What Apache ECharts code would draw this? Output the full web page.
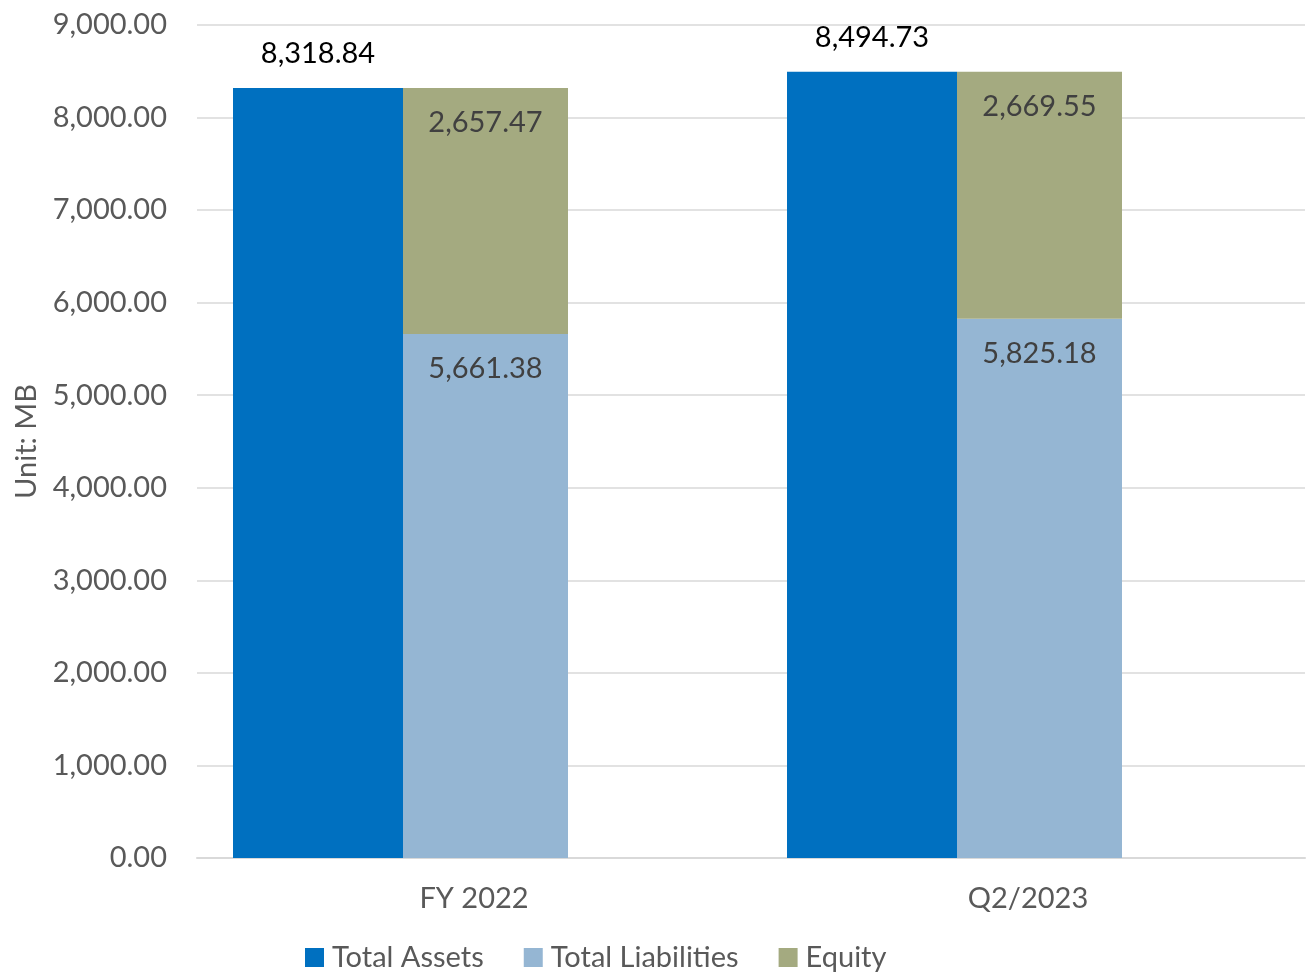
<!DOCTYPE html>
<html>
<head>
<meta charset="utf-8">
<title>Total Assets, Liabilities and Equity</title>
<script src="https://cdn.jsdelivr.net/npm/echarts@6/dist/echarts.min.js"></script>
<style>
  html, body { margin: 0; padding: 0; background: #ffffff; }
  #chart { width: 1306px; height: 975px; }
</style>
</head>
<body>
<div id="chart"></div>
<script>
// Balance sheet figures, unit: million baht
const categories = ['FY 2022', 'Q2/2023'];
const totalAssets = [8318.84, 8494.73];
const totalLiabilities = [5661.38, 5825.18];
const equity = [2657.47, 2669.55];

const yMin = 0;
const yMax = 9000;
const yStep = 1000;

const FONT = 'Lato, "Open Sans", "Noto Sans", sans-serif';
const FS = 29;
const fmt = v => Number(v).toLocaleString('en-US', { minimumFractionDigits: 2, maximumFractionDigits: 2 });

const chart = echarts.init(document.getElementById('chart'), null, { renderer: 'canvas' });

chart.setOption({
  backgroundColor: '#ffffff',
  animation: false,
  textStyle: { fontFamily: FONT },
  grid: { left: 197, right: 1, top: 25, bottom: 117, containLabel: false },
  legend: {
    data: ['Total Assets', 'Total Liabilities', 'Equity'],
    left: 305,
    top: 943,
    padding: 0,
    itemWidth: 19,
    itemHeight: 19,
    itemGap: 40,
    icon: 'rect',
    textStyle: { color: '#595959', fontSize: FS, fontFamily: FONT, padding: [0, 0, 0, 3] }
  },
  xAxis: {
    type: 'category',
    data: categories,
    axisTick: { show: false },
    axisLine: { show: true, lineStyle: { color: '#d9d9d9', width: 2 } },
    axisLabel: { color: '#595959', fontSize: FS, margin: 26, fontFamily: FONT }
  },
  yAxis: {
    type: 'value',
    min: yMin,
    max: yMax,
    interval: yStep,
    name: 'Unit: MB',
    nameLocation: 'middle',
    nameGap: 156,
    nameRotate: 90,
    nameTextStyle: { color: '#595959', fontSize: FS, fontFamily: FONT },
    axisLine: { show: false },
    axisTick: { show: false },
    axisLabel: { color: '#595959', fontSize: FS, margin: 30, fontFamily: FONT, formatter: fmt },
    splitLine: { lineStyle: { color: '#d9d9d9', width: 1.5 } }
  },
  series: [
    {
      name: 'Total Assets',
      type: 'bar',
      data: totalAssets,
      barWidth: 170,
      barGap: '0%',
      itemStyle: { color: '#0070c0' },
      label: {
        show: true, position: 'top', distance: 20,
        color: '#000000', fontSize: FS, fontFamily: FONT,
        formatter: p => fmt(p.value)
      }
    },
    {
      name: 'Total Liabilities',
      type: 'bar',
      stack: 'funding',
      data: totalLiabilities,
      barWidth: 165,
      barGap: '0%',
      itemStyle: { color: '#95b6d3' },
      label: {
        show: true, position: 'insideTop', distance: 20,
        color: '#404040', fontSize: FS, fontFamily: FONT,
        formatter: p => fmt(p.value)
      }
    },
    {
      name: 'Equity',
      type: 'bar',
      stack: 'funding',
      data: equity,
      barWidth: 165,
      barGap: '0%',
      itemStyle: { color: '#a4aa80' },
      label: {
        show: true, position: 'insideTop', distance: 20,
        color: '#404040', fontSize: FS, fontFamily: FONT,
        formatter: p => fmt(p.value)
      }
    },
    {
      // empty slot that keeps the cluster's right-hand space
      name: 'slot',
      type: 'bar',
      data: categories.map(() => '-'),
      barWidth: 147,
      barGap: '0%',
      silent: true,
      itemStyle: { color: 'transparent' }
    }
  ]
});
</script>
</body>
</html>
